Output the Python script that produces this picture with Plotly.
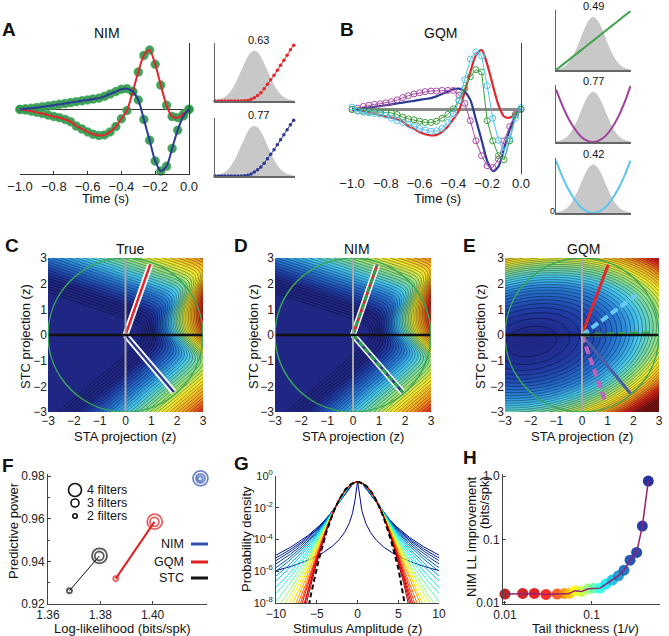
import numpy as np
import plotly.graph_objects as go
from plotly.colors import sample_colorscale

W, H = 669, 636
FONT = "Liberation Sans, Arial, sans-serif"

# ---------------- data ----------------
LAGS = [-1.0, -0.967, -0.933, -0.9, -0.867, -0.833, -0.8, -0.767, -0.733, -0.7,
        -0.667, -0.633, -0.6, -0.567, -0.533, -0.5, -0.467, -0.433, -0.4, -0.367,
        -0.333, -0.3, -0.267, -0.233, -0.2, -0.167, -0.133, -0.1, -0.067, -0.033, 0.0]
TRUE_F1 = [0.00, -0.01, -0.03, -0.05, -0.07, -0.096, -0.12, -0.14, -0.17, -0.21,
           -0.28, -0.33, -0.38, -0.42, -0.44, -0.43, -0.38, -0.29, -0.16, -0.02,
           0.30, 0.63, 0.91, 1.00, 0.76, 0.41, 0.07, -0.12, -0.14, -0.08, 0.00]
TRUE_F2 = [0.00, 0.01, 0.02, 0.03, 0.045, 0.056, 0.07, 0.085, 0.10, 0.115,
           0.13, 0.145, 0.16, 0.175, 0.19, 0.22, 0.26, 0.30, 0.34, 0.35,
           0.30, 0.16, -0.17, -0.52, -0.87, -1.04, -0.96, -0.66, -0.35, -0.11, 0.00]
NIM_F1 = TRUE_F1
NIM_F2 = TRUE_F2
GQM_Q1 = [0.00, 0.02, 0.05, 0.07, 0.085, 0.095, 0.11, 0.13, 0.16, 0.20,
          0.23, 0.26, 0.28, 0.30, 0.31, 0.31, 0.32, 0.32, 0.32, 0.24,
          0.10, -0.19, -0.53, -0.78, -0.95, -0.98, -0.84, -0.53, -0.29, -0.08, 0.00]
GQM_LIN = [0.00, -0.02, -0.03, -0.035, -0.04, -0.045, -0.055, -0.06, -0.085, -0.13,
           -0.16, -0.175, -0.20, -0.22, -0.22, -0.20, -0.15, -0.085, 0.01, 0.15,
           0.35, 0.55, 0.67, 0.63, -0.19, -0.53, -0.78, -0.85, -0.53, -0.10, 0.00]
GQM_Q2 = [0.04, -0.03, -0.05, -0.06, -0.07, -0.08, -0.10, -0.15, -0.19, -0.22,
          -0.25, -0.29, -0.32, -0.35, -0.37, -0.36, -0.32, -0.22, -0.08, 0.15,
          0.50, 0.85, 0.97, 0.90, 0.40, -0.15, -0.52, -0.70, -0.50, -0.15, 0.03]

NL_X = [-3.0, -2.75, -2.5, -2.25, -2.0, -1.75, -1.5, -1.25, -1.0, -0.75, -0.5, -0.25, 0.0,
        0.25, 0.5, 0.75, 1.0, 1.25, 1.5, 1.75, 2.0, 2.25, 2.5, 2.75, 3.0]
GAUSS_SHAPE = [0.012, 0.022, 0.040, 0.072, 0.122, 0.195, 0.292, 0.412, 0.546, 0.679, 0.794, 0.872, 0.900,
               0.872, 0.794, 0.679, 0.546, 0.412, 0.292, 0.195, 0.122, 0.072, 0.040, 0.022, 0.012]
NIM_NL1 = [0, 0, 0, 0, 0, 0, 0, 0, 0, 0.005, 0.01, 0.03, 0.06, 0.10, 0.15, 0.22, 0.30, 0.38, 0.46,
           0.55, 0.64, 0.73, 0.82, 0.92, 1.0]
NIM_NL2 = [0, 0, 0, 0, 0, 0, 0, 0, 0.002, 0.006, 0.012, 0.035, 0.07, 0.11, 0.16, 0.23, 0.31, 0.39,
           0.47, 0.56, 0.65, 0.74, 0.83, 0.92, 1.0]
NIM_SPARSE = ["0.63", "0.77"]

GQM_NL_X = [-3.0, -2.5, -2.0, -1.5, -1.0, -0.5, 0.0, 0.5, 1.0, 1.5, 2.0, 2.5, 3.0]
GQM_NL_LIN = [0.0, 0.083, 0.167, 0.25, 0.333, 0.417, 0.5, 0.583, 0.667, 0.75, 0.833, 0.917, 1.0]
GQM_NL_Q1 = [0.94, 0.66, 0.42, 0.24, 0.10, 0.025, 0.0, 0.03, 0.11, 0.25, 0.44, 0.69, 1.0]
GQM_NL_Q2 = [0.97, 0.68, 0.44, 0.25, 0.11, 0.03, 0.0, 0.03, 0.11, 0.25, 0.44, 0.68, 0.97]
GQM_SPARSE = ["0.49", "0.77", "0.42"]

# filter directions in the STA/STC plane (end points of drawn filter lines)
TRUE_K1 = [0.96, 2.75]
TRUE_K2 = [1.87, -2.22]
NIM_K1 = [0.93, 2.74]
NIM_K2 = [1.92, -2.24]
GQM_KL = [2.8, 0.07]
GQM_KQ1 = [2.22, 1.63]
GQM_KQ2 = [0.93, -2.65]
GQM_KT1 = [1.02, 2.74]
GQM_KT2 = [1.89, -2.28]

# panel F
F_NFILT = [2, 3, 4]
STC_LL = [1.3682, 1.3796, 1.3797]
STC_PP = [0.9262, 0.9425, 0.9426]
GQM_LL = [1.3859, 1.4007, 1.4008]
GQM_PP = [0.9319, 0.9585, 0.9586]
NIM_LL = [1.4182, 1.4183, 1.4183]
NIM_PP = [0.9788, 0.9789, 0.9789]

# panel G: tail parameter (nu) of each plotted density, heavy -> light
G_NU = [2.02, 5.0, 5.5, 6.0, 6.6, 7.3, 8.0, 9.0, 10, 11.5, 13, 15, 17.5, 20, 23, 27, 32, 38, 46, 56,
        70, 90, 130]

# panel H
H_TAIL = [0.010, 0.016, 0.0218, 0.0297, 0.040, 0.0483, 0.055, 0.064, 0.076, 0.091, 0.106, 0.125,
          0.146, 0.173, 0.203, 0.236, 0.277, 0.330, 0.384, 0.45]
H_LL = [0.0137, 0.0140, 0.0140, 0.0135, 0.0137, 0.0140, 0.0140, 0.0155, 0.0150, 0.0166, 0.0170,
        0.0170, 0.0197, 0.0228, 0.0266, 0.0327, 0.047, 0.0622, 0.162, 0.834]

# ---------------- helpers ----------------
def xd(a, b):
    return [a / W, b / W]


def yd(top, bot):
    return [1 - bot / H, 1 - top / H]


layout = dict(width=W, height=H, margin=dict(l=0, r=0, t=0, b=0, pad=0), paper_bgcolor='white',
              plot_bgcolor='rgba(0,0,0,0)', showlegend=False,
              font=dict(family=FONT, size=12, color='#222'))
annotations = []
shapes = []
fig = go.Figure()

BASE = dict(showgrid=False, zeroline=False, showline=False, ticks='', showticklabels=False,
            fixedrange=True, automargin=False)


def set_axes(n, xdom, ydom, xo, yo):
    xa = 'xaxis' if n == 1 else f'xaxis{n}'
    ya = 'yaxis' if n == 1 else f'yaxis{n}'
    xr = 'x' if n == 1 else f'x{n}'
    yr = 'y' if n == 1 else f'y{n}'
    layout[xa] = {**BASE, 'domain': xdom, 'anchor': yr, **xo}
    layout[ya] = {**BASE, 'domain': ydom, 'anchor': xr, **yo}
    return xr, yr


def txt(x, y, s, size=12, bold=False, angle=0, xanchor='center', color='#111'):
    annotations.append(dict(x=x / W, y=1 - y / H, xref='paper', yref='paper',
                            text=f'<b>{s}</b>' if bold else s, showarrow=False,
                            font=dict(size=size, family=FONT, color=color),
                            xanchor=xanchor, yanchor='middle', textangle=angle))


RED = '#e3262b'
BLUE = '#2b3a94'
MAG = '#a548a5'
GRN = '#3a9e3a'
CYN = '#52c3ee'
TIME_TICKS = dict(tickvals=[-1, -0.8, -0.6, -0.4, -0.2, 0],
                  ticktext=['−1.0', '−0.8', '−0.6', '−0.4', '−0.2', '0.0'],
                  showticklabels=True, tickfont=dict(size=13, color='#222'))

# ---------------- panel A ----------------
xr, yr = set_axes(1, xd(20, 189), yd(43, 174),
                  dict(range=[-1, 0], showline=True, linecolor='#333', linewidth=1, ticks='inside',
                       ticklen=3, tickcolor='#333', **TIME_TICKS),
                  dict(range=[-1.09, 1.12], side='right', showline=True, linecolor='#333', linewidth=1,
                       zeroline=True, zerolinecolor='#333', zerolinewidth=1))
for f in (NIM_F1, NIM_F2):
    fig.add_trace(go.Scatter(x=LAGS, y=f, mode='markers', cliponaxis=False,
                             marker=dict(size=9, color='rgba(45,150,75,0.9)',
                                         line=dict(width=0.5, color='rgba(90,190,110,0.8)')),
                             xaxis=xr, yaxis=yr))
for f, c in ((TRUE_F1, RED), (TRUE_F2, BLUE)):
    fig.add_trace(go.Scatter(x=LAGS, y=f, mode='lines', cliponaxis=False,
                             line=dict(color=c, width=2, shape='spline', smoothing=0.8),
                             xaxis=xr, yaxis=yr))
txt(9, 29, 'A', 19, bold=True)
txt(107, 33, 'NIM', 14)
txt(105, 198, 'Time (s)', 13)

SMALL = dict(showline=True, linecolor='#666', linewidth=1.5)
for i, (nl, c, top, bot) in enumerate(((NIM_NL1, RED, 43, 101), (NIM_NL2, BLUE, 118, 176))):
    xr, yr = set_axes(2 + i, xd(215, 295), yd(top, bot), dict(range=[-3, 3.1], **SMALL),
                      dict(range=[0, 1.04], **SMALL))
    fig.add_trace(go.Scatter(x=NL_X, y=GAUSS_SHAPE, mode='lines', fill='tozeroy', fillcolor='#c8c8c8',
                             line=dict(width=0, shape='spline'), xaxis=xr, yaxis=yr))
    fig.add_trace(go.Scatter(x=NL_X, y=nl, mode='lines+markers', cliponaxis=False,
                             line=dict(color=c, width=1, shape='spline'),
                             marker=dict(size=3.5, color=c), xaxis=xr, yaxis=yr))
    txt(258, top - 3, NIM_SPARSE[i], 11)

# ---------------- panel B ----------------
xr, yr = set_axes(4, xd(352, 521), yd(43, 174), dict(range=[-1, 0], **TIME_TICKS),
                  dict(range=[-1.09, 1.12], side='right', showline=True, linecolor='#444', linewidth=1,
                       zeroline=True, zerolinecolor='#8a8a8a', zerolinewidth=2.5))
for f, c in ((TRUE_F1, RED), (TRUE_F2, BLUE)):
    fig.add_trace(go.Scatter(x=LAGS, y=f, mode='lines', cliponaxis=False,
                             line=dict(color=c, width=2.2, shape='spline', smoothing=0.8),
                             xaxis=xr, yaxis=yr))
for f, c in ((GQM_Q1, MAG), (GQM_LIN, GRN), (GQM_Q2, CYN)):
    fig.add_trace(go.Scatter(x=LAGS, y=f, mode='lines+markers', cliponaxis=False,
                             line=dict(color=c, width=1),
                             marker=dict(symbol='circle-open', size=6, color=c, line=dict(width=1)),
                             xaxis=xr, yaxis=yr))
txt(347, 29, 'B', 19, bold=True)
txt(440, 33, 'GQM', 14)
txt(437, 198, 'Time (s)', 13)

for i, (xs, nl, c, top, bot) in enumerate(((GQM_NL_X, GQM_NL_LIN, '#3fa34d', 10, 70),
                                            (GQM_NL_X, GQM_NL_Q1, '#a0409c', 85, 142),
                                            (GQM_NL_X, GQM_NL_Q2, '#5bc5ef', 158, 213))):
    xr, yr = set_axes(5 + i, xd(556, 631), yd(top, bot), dict(range=[-3, 3.05], **SMALL),
                      dict(range=[0, 1.02], **SMALL))
    fig.add_trace(go.Scatter(x=NL_X, y=GAUSS_SHAPE, mode='lines', fill='tozeroy', fillcolor='#c8c8c8',
                             line=dict(width=0, shape='spline'), xaxis=xr, yaxis=yr))
    fig.add_trace(go.Scatter(x=xs, y=nl, mode='lines', cliponaxis=False,
                             line=dict(color=c, width=2, shape='spline'), xaxis=xr, yaxis=yr))
    txt(593, top - 4, GQM_SPARSE[i], 11)
txt(552, 211, '0', 9)

# ---------------- panels C, D, E ----------------
JET2D = [[0.0, 'rgb(32,38,132)'], [0.1, 'rgb(32,62,168)'], [0.25, 'rgb(40,125,215)'],
         [0.37, 'rgb(70,200,238)'], [0.5, 'rgb(140,225,140)'], [0.62, 'rgb(245,236,50)'],
         [0.75, 'rgb(246,160,36)'], [0.87, 'rgb(226,40,30)'], [1.0, 'rgb(130,20,20)']]
GX = np.linspace(-3, 3, 161)
GXX, GYY = np.meshgrid(GX, GX)


def unit(k):
    k = np.asarray(k, float)
    return k / np.hypot(*k)


def soft(u, k=9.0, th=0.3):
    return np.log1p(np.exp(k * (u - th))) / k


def nim_field(k1, k2):
    a, b = unit(k1), unit(k2)
    h1 = soft(GXX * a[0] + GYY * a[1])
    h2 = soft(GXX * b[0] + GYY * b[1])
    p = 0.58
    g = (h1 ** p + h2 ** p) ** (1 / p)
    return g, np.clip((g - 0.8) / 3.6, 0, 1) ** 0.9


def gqm_field(kl, kq1, kq2):
    l, q1, q2 = unit(kl), unit(kq1), unit(kq2)
    g = 1.4 * (GXX * l[0] + GYY * l[1]) + 1.0 * (GXX * q2[0] + GYY * q2[1]) ** 2 \
        + 0.4 * (GXX * q1[0] + GYY * q1[1]) ** 2
    c = np.clip((g - g.min()) / 17.0, 0, 1)
    return g, c


SQ_TICKS = dict(range=[-3, 3], tickvals=[-3, -2, -1, 0, 1, 2, 3],
                ticktext=['−3', '−2', '−1', '0', '1', '2', '3'], showticklabels=True,
                tickfont=dict(size=12, color='#222'))


def field_panel(n, x0, x1, g, col, levels):
    xr, yr = set_axes(n, xd(x0, x1), yd(258, 412), dict(SQ_TICKS), dict(SQ_TICKS))
    fig.add_trace(go.Heatmap(x=GX, y=GX, z=col, zmin=0, zmax=1, colorscale=JET2D, showscale=False,
                             xaxis=xr, yaxis=yr, hoverinfo='skip'))
    fig.add_trace(go.Contour(x=GX, y=GX, z=g, showscale=False, xaxis=xr, yaxis=yr,
                             contours=dict(coloring='none', start=levels[0], end=levels[1],
                                           size=levels[2]),
                             line=dict(color='rgba(0,0,0,0.75)', width=0.5), hoverinfo='skip'))
    return xr, yr


def ref_shapes(xr, yr):
    shapes.append(dict(type='line', xref=xr, yref=yr, x0=0, x1=0, y0=-3, y1=3,
                       line=dict(color='#a8a8a8', width=2), layer='above'))
    shapes.append(dict(type='line', xref=xr, yref=yr, x0=-3, x1=3, y0=0, y1=0,
                       line=dict(color='#111', width=2.5), layer='above'))
    shapes.append(dict(type='circle', xref=xr, yref=yr, x0=-3, x1=3, y0=-3, y1=3,
                       line=dict(color='#3aa858', width=1.5), layer='above'))


def seg(xr, yr, k, color, width, dash='solid'):
    fig.add_trace(go.Scatter(x=[0, k[0]], y=[0, k[1]], mode='lines', xaxis=xr, yaxis=yr,
                             line=dict(color=color, width=width, dash=dash), hoverinfo='skip'))


# C
g, col = nim_field(TRUE_K1, TRUE_K2)
xr, yr = field_panel(8, 48, 203, g, col, (0.3, 8, 0.1))
ref_shapes(xr, yr)
for k, c in ((TRUE_K1, RED), (TRUE_K2, BLUE)):
    seg(xr, yr, k, 'white', 6)
    seg(xr, yr, k, c, 2.5)
txt(12, 245, 'C', 19, bold=True)
txt(130, 249, 'True', 14)
txt(125, 436, 'STA projection (z)', 13)
txt(25, 337, 'STC projection (z)', 13, angle=-90)

# D
g, col = nim_field(NIM_K1, NIM_K2)
xr, yr = field_panel(9, 275, 431, g, col, (0.3, 8, 0.1))
ref_shapes(xr, yr)
for k, c in ((NIM_K1, RED), (NIM_K2, BLUE)):
    seg(xr, yr, k, 'white', 6)
    seg(xr, yr, k, c, 3)
    seg(xr, yr, k, '#2fa050', 3, dash='6px,3px')
txt(241, 245, 'D', 19, bold=True)
txt(357, 249, 'NIM', 14)
txt(353, 436, 'STA projection (z)', 13)
txt(253, 337, 'STC projection (z)', 13, angle=-90)

# E
g, col = gqm_field(GQM_KL, GQM_KQ1, GQM_KQ2)
xr, yr = field_panel(10, 505, 659, g, col, (float(g.min()) + 0.35, float(g.max()), 0.45))
ref_shapes(xr, yr)
seg(xr, yr, GQM_KT1, RED, 3)
seg(xr, yr, GQM_KT2, '#4a5ea6', 3)
seg(xr, yr, GQM_KQ1, '#66ccf5', 4, dash='8px,4px')
seg(xr, yr, GQM_KL, '#3aa848', 4, dash='8px,4px')
seg(xr, yr, GQM_KQ2, '#c060c0', 4, dash='8px,4px')
txt(470, 245, 'E', 19, bold=True)
txt(583, 249, 'GQM', 14)
txt(582, 436, 'STA projection (z)', 13)
txt(480, 337, 'STC projection (z)', 13, angle=-90)

# ---------------- panel F ----------------
AXL = dict(showline=True, linecolor='#444', linewidth=1, ticks='inside', ticklen=3, tickcolor='#444',
           showticklabels=True, tickfont=dict(size=12, color='#222'))
xr, yr = set_axes(11, xd(48, 207), yd(474, 604),
                  dict(range=[1.36, 1.4208], tickvals=[1.36, 1.38, 1.40],
                       ticktext=['1.36', '1.38', '1.40'], **AXL),
                  dict(range=[0.92, 0.98094], tickvals=[0.92, 0.94, 0.96, 0.98],
                       ticktext=['0.92', '0.94', '0.96', '0.98'],
                       minor=dict(tickvals=[0.93, 0.95, 0.97], ticks='inside', ticklen=2,
                                  tickcolor='#444'), **AXL))
SIZE_OF = {2: 5, 3: 9, 4: 15}
for lls, pps, c, lw in ((STC_LL, STC_PP, '#111', 1), (GQM_LL, GQM_PP, '#e02020', 2),
                        (NIM_LL, NIM_PP, '#3050b0', 2)):
    fig.add_trace(go.Scatter(x=lls[:2], y=pps[:2], mode='lines', line=dict(color=c, width=lw),
                             xaxis=xr, yaxis=yr, cliponaxis=False))
    fig.add_trace(go.Scatter(x=lls, y=pps, mode='markers', cliponaxis=False, xaxis=xr, yaxis=yr,
                             marker=dict(symbol='circle-open', color=c,
                                         size=[SIZE_OF[n] for n in F_NFILT],
                                         line=dict(width=1.8))))
txt(8, 465, 'F', 19, bold=True)
txt(13, 531, 'Predictive power', 13, angle=-90)
txt(122, 628, 'Log-likelihood (bits/spk)', 13)
for (yy, r, lab) in ((490, 6.5, '4 filters'), (503, 4, '3 filters'), (516, 2.2, '2 filters')):
    shapes.append(dict(type='circle', xref='paper', yref='paper', xsizemode='pixel',
                       ysizemode='pixel', xanchor=75 / W, yanchor=1 - yy / H,
                       x0=-r, x1=r, y0=-r, y1=r, line=dict(color='#111', width=1.6)))
    txt(85, yy, lab, 12.5, xanchor='left')
for (yy, lab, c) in ((544, 'NIM', '#3050b0'), (562, 'GQM', '#e02020'), (578, 'STC', '#111')):
    txt(186, yy, lab, 12.5, xanchor='right')
    shapes.append(dict(type='line', xref='paper', yref='paper', x0=191 / W, x1=208 / W,
                       y0=1 - yy / H, y1=1 - yy / H, line=dict(color=c, width=3)))

# ---------------- panel G ----------------
AXG = dict(AXL)
AXG['tickfont'] = dict(size=11, color='#222')
xr, yr = set_axes(12, xd(276, 439), yd(476, 603),
                  dict(range=[-10, 10], tickvals=[-10, -5, 0, 5, 10],
                       ticktext=['−10', '−5', '0', '5', '10'], **AXL),
                  dict(type='log', range=[-8, 0], tickvals=[1, 1e-2, 1e-4, 1e-6, 1e-8],
                       ticktext=['10<sup>0</sup>', '10<sup>-2</sup>', '10<sup>-4</sup>',
                                 '10<sup>-6</sup>', '10<sup>-8</sup>'], **AXG))
zx = np.linspace(-10, 10, 501)
gcols = sample_colorscale('Jet', list(np.linspace(0.02, 0.92, len(G_NU))))
for nu, c in zip(G_NU, gcols):
    dens = 0.42 * (1 + zx ** 2 / (nu - 2)) ** (-(nu + 1) / 2)
    fig.add_trace(go.Scatter(x=zx, y=dens, mode='lines', line=dict(color=c, width=1),
                             xaxis=xr, yaxis=yr))
fig.add_trace(go.Scatter(x=zx, y=0.42 * np.exp(-zx ** 2 / 2), mode='lines',
                         line=dict(color='black', width=2, dash='5px,3px'), xaxis=xr, yaxis=yr))
txt(241, 463, 'G', 19, bold=True)
txt(246, 539, 'Probability density', 13, angle=-90)
txt(357, 628, 'Stimulus Amplitude (z)', 13)

# ---------------- panel H ----------------
xr, yr = set_axes(13, xd(503, 660), yd(474, 604),
                  dict(type='log', range=[-2.023, -0.212], tickvals=[0.01, 0.1],
                       ticktext=['0.01', '0.1'], **AXL),
                  dict(type='log', range=[-2.02, 0.032], tickvals=[0.01, 0.1, 1],
                       ticktext=['0.01', '0.1', '1.0'], **AXL))
n = len(H_TAIL)
hcols = sample_colorscale('Jet', [0.93 - 0.88 * i / (n - 1) for i in range(n)])
fig.add_trace(go.Scatter(x=H_TAIL, y=H_LL, mode='markers', cliponaxis=False, xaxis=xr, yaxis=yr,
                         marker=dict(size=11, color=hcols, opacity=0.85,
                                     line=dict(width=0))))
fig.add_trace(go.Scatter(x=H_TAIL, y=H_LL, mode='lines', cliponaxis=False, xaxis=xr, yaxis=yr,
                         line=dict(color='#962070', width=1.5)))
txt(470, 458, 'H', 19, bold=True)
txt(471, 537, 'NIM LL improvement', 13, angle=-90)
txt(484, 503, '(bits/spk)', 13, angle=-90)
txt(585, 628, 'Tail thickness (1/<i>v</i>)', 13)

layout['annotations'] = annotations
layout['shapes'] = shapes
fig.update_layout(**layout)
fig.write_html("out.html", config={'displayModeBar': False, 'staticPlot': True},
               post_script="document.body.style.margin='0px';document.body.style.overflow='hidden';")
